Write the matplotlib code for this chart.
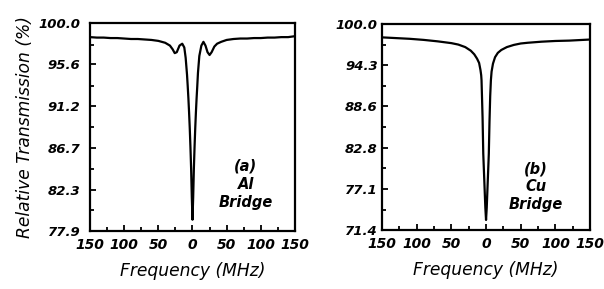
import matplotlib

matplotlib.use("Agg")

import matplotlib.pyplot as plt
from matplotlib.ticker import MultipleLocator, FixedLocator

# (a) Al bridge: frequency offset (MHz) and relative transmission (%)
freq_a = [-150, -140, -130, -120, -110, -100, -90, -80, -70, -60, -50, -40, -33, -29,
          -26, -23, -19, -15, -12, -10, -8, -7, -6, -5, -4, -3, -2, -1, 0,
          1, 2, 3, 4, 5, 6, 7, 8, 10, 13, 16, 19, 22, 25, 28, 32, 36, 42, 50,
          60, 70, 80, 90, 100, 110, 120, 130, 140, 150]
trans_a = [98.5, 98.45, 98.45, 98.4, 98.4, 98.35, 98.3, 98.3, 98.25, 98.2, 98.1, 97.9, 97.6, 97.2,
           96.8, 96.9, 97.6, 97.8, 97.4, 96.3, 94.5, 93.3, 92.0, 90.5, 88.8, 86.8, 84.5, 81.5, 79.1,
           81.5, 84.5, 86.8, 88.8, 90.5, 92.0, 93.3, 94.7, 96.5, 97.6, 98.0, 97.6, 96.9, 96.6, 96.9,
           97.5, 97.8, 98.0, 98.2,
           98.3, 98.35, 98.35, 98.4, 98.4, 98.45, 98.45, 98.5, 98.5, 98.6]

# (b) Cu bridge
freq_b = [-150, -130, -110, -90, -70, -50, -40, -30, -22, -17, -13, -10, -8, -7, -6.5, -6,
          -5, -4, -3, -2, -1, 0, 1, 2, 3, 4, 5, 6, 7, 8, 10, 13, 17, 22, 30, 40,
          50, 60, 80, 100, 120, 140, 150]
trans_b = [98.15, 98.05, 97.95, 97.8, 97.6, 97.35, 97.15, 96.8, 96.3, 95.8, 95.2, 94.6, 93.6, 92.9, 92.2, 90.5,
           87.0, 82.0, 79.5, 77.0, 74.5, 72.8, 74.5, 77.0, 79.5, 82.0, 86.5, 90.0, 92.2, 93.4, 94.5, 95.4,
           96.0, 96.4, 96.8, 97.1,
           97.3, 97.4, 97.55, 97.65, 97.7, 97.8, 97.85]

x_ticks = [-150, -100, -50, 0, 50, 100, 150]
x_tick_labels = ["150", "100", "50", "0", "50", "100", "150"]
y_ticks_a = [77.9, 82.3, 86.7, 91.2, 95.6, 100.0]
y_ticks_b = [71.4, 77.1, 82.8, 88.6, 94.3, 100.0]

plt.rcParams["font.family"] = "DejaVu Sans"
plt.rcParams["font.style"] = "italic"
plt.rcParams["font.weight"] = "bold"

fig = plt.figure(figsize=(6.04, 2.89), dpi=100)
ax_a = fig.add_axes([0.149, 0.2007, 0.3394, 0.7197])
ax_b = fig.add_axes([0.6325, 0.204, 0.3444, 0.7128])

panels = [
    (ax_a, freq_a, trans_a, y_ticks_a, 7, "(a)\nAl\nBridge", 0.76, 0.225),
    (ax_b, freq_b, trans_b, y_ticks_b, 3, "(b)\nCu\nBridge", 0.74, 0.21),
]

for ax, freq, trans, yticks, ypad, note, nx, ny in panels:
    ax.plot(freq, trans, color="black", linewidth=1.6)
    ax.set_xlim(-150, 150)
    ax.set_ylim(yticks[0], yticks[-1])
    ax.set_xticks(x_ticks)
    ax.set_xticklabels(x_tick_labels)
    ax.xaxis.set_minor_locator(MultipleLocator(25))
    ax.set_yticks(yticks)
    ax.set_yticklabels([f"{v:.1f}" for v in yticks])
    step = (yticks[1] - yticks[0]) / 2
    ax.yaxis.set_minor_locator(FixedLocator([yticks[0] + step * (2 * i + 1) for i in range(5)]))
    ax.tick_params(which="both", direction="in", top=False, right=False, width=1.3)
    ax.tick_params(which="major", length=4)
    ax.tick_params(which="minor", length=3)
    ax.tick_params(axis="x", labelsize=10, pad=5)
    ax.tick_params(axis="y", labelsize=9.5, pad=ypad)
    for spine in ax.spines.values():
        spine.set_linewidth(1.6)
    ax.set_xlabel("Frequency (MHz)", fontsize=12.3, labelpad=7)
    ax.text(nx, ny, note, transform=ax.transAxes, ha="center", va="center",
            fontsize=10.5, linespacing=1.25)

ax_a.set_ylabel("Relative Transmission (%)", fontsize=12.3, labelpad=3)

fig.savefig("out.png", dpi=100)
plt.close(fig)
